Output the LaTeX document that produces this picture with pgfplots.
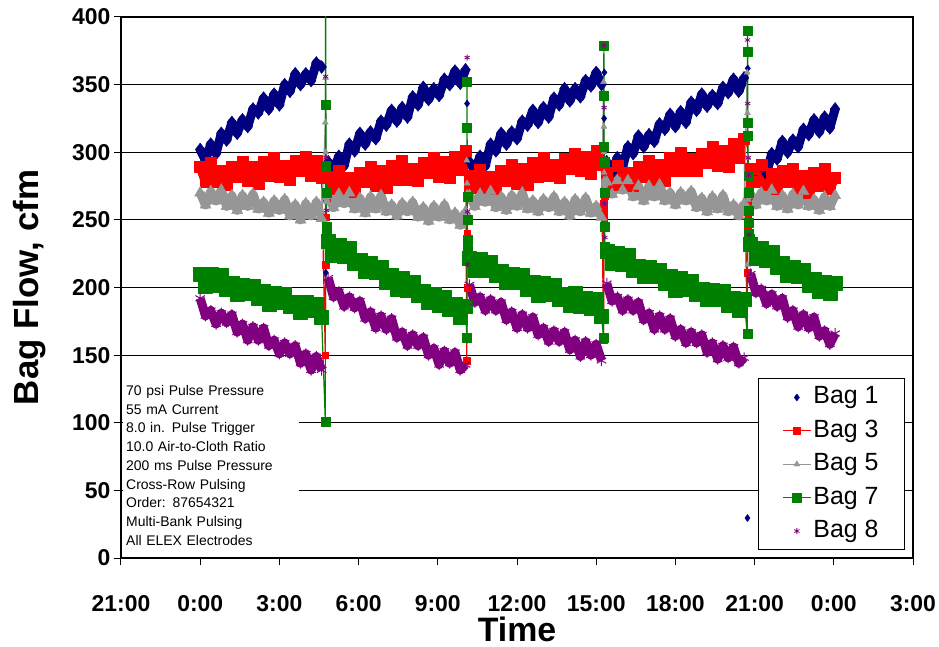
\documentclass[border=0pt]{standalone}
\usepackage{pgfplots}
\usepackage{pgfplotstable}
\usepackage{fontspec}
\setmainfont{Liberation Sans}
\pgfplotsset{compat=1.18}

\definecolor{bagA}{RGB}{0,0,128}
\definecolor{bagB}{RGB}{255,0,0}
\definecolor{bagC}{RGB}{150,150,150}
\definecolor{bagD}{RGB}{0,128,0}
\definecolor{bagE}{RGB}{128,0,128}

\pgfplotsset{
    band/.style={line width=9bp, line join=round, forget plot},
    jump/.style={line width=1.2bp, line join=round},
}

% time in hours after 0:00 of the first day; a nan row ends each pulse cycle
\pgfplotstableread{
t b1 b3 b5 b7 b8
0.0 302 289 270 210 192
0.2 294 278 261 201 179
0.4 306 292 271 210 183
0.6 299 278 264 202 173
0.8 314 286 272 209 181
1.0 309 276 260 199 174
1.2 322 289 268 203 180
1.4 314 282 257 195 167
1.6 324 293 268 202 173
1.8 319 279 260 196 161
2.0 332 289 269 201 171
2.2 329 277 258 192 161
2.4 340 293 263 197 170
2.6 332 283 255 188 157
2.8 343 296 264 196 161
3.0 335 282 257 189 151
3.2 350 290 265 195 159
3.4 345 280 253 186 151
3.6 358 294 261 189 157
3.8 350 286 250 182 144
4.0 358 297 262 189 151
4.2 353 283 253 183 139
4.4 366 294 263 188 149
4.6 363 281 251 178 139
4.7 nan nan nan nan nan
4.85 293 282 268 234 207
5.05 286 273 259 224 193
5.25 297 286 269 231 197
5.45 290 273 262 223 186
5.65 306 281 270 229 193
5.85 301 271 258 218 185
6.05 314 285 266 220 190
6.25 306 278 255 212 177
6.45 315 289 267 218 182
6.65 310 275 258 211 170
6.85 323 286 268 215 179
7.05 320 274 256 204 169
7.25 331 290 261 209 177
7.45 323 280 253 199 163
7.65 333 294 262 207 167
7.85 326 280 256 198 157
8.05 341 288 263 204 165
8.25 335 279 252 194 157
8.45 348 292 259 197 163
8.65 339 285 249 189 150
8.85 347 296 260 195 155
9.05 342 282 252 187 143
9.25 354 293 261 193 153
9.45 350 281 250 184 144
9.65 360 297 255 188 152
9.85 351 287 246 178 139
10.05 361 301 256 186 143
10.1 nan nan nan nan nan
10.2 293 283 268 222 202
10.4 286 274 260 213 189
10.6 297 287 269 221 193
10.8 290 274 263 213 183
11.0 306 282 271 219 191
11.2 301 273 259 209 183
11.4 314 286 267 212 189
11.6 306 279 257 204 176
11.8 315 291 268 210 182
12.0 310 277 260 204 170
12.2 323 288 270 209 180
12.4 320 276 258 199 170
12.6 331 292 264 204 178
12.8 322 282 256 194 165
13.0 333 296 265 203 170
13.2 326 283 259 195 160
13.4 340 291 267 202 168
13.6 335 281 256 191 160
13.8 347 295 263 195 167
14.0 338 288 253 187 154
14.2 347 299 265 196 161
14.4 341 286 256 186 149
14.6 353 297 266 192 160
14.8 349 284 255 185 150
15.0 359 301 260 191 158
15.2 350 291 252 179 146
15.3 nan nan nan nan nan
15.4 293 285 278 227 203
15.6 285 276 269 218 190
15.8 296 290 279 225 193
16.0 289 276 272 217 183
16.2 304 285 279 224 191
16.4 299 275 267 213 183
16.6 312 289 275 216 189
16.8 304 282 264 208 176
17.0 313 294 275 215 181
17.2 308 280 267 208 169
17.4 321 291 276 213 179
17.6 317 279 264 203 169
17.8 328 296 270 208 177
18.0 319 286 261 198 164
18.2 330 300 270 207 169
18.4 322 286 264 199 159
18.6 337 295 271 205 167
18.8 331 286 259 195 159
19.0 343 299 266 199 165
19.2 334 292 256 191 152
19.4 342 304 267 198 159
19.6 336 290 258 191 147
19.8 348 301 268 197 157
20.0 344 289 256 187 148
20.2 354 306 261 192 156
20.4 345 296 253 183 144
20.6 355 310 262 191 148
20.7 nan nan nan nan nan
20.85 286 288 269 232 210
21.05 279 278 261 222 196
21.25 290 291 270 229 199
21.45 284 276 264 220 188
21.65 299 284 272 226 195
21.85 295 273 260 215 186
22.05 308 286 268 218 192
22.25 300 278 258 209 178
22.45 309 288 269 215 183
22.65 304 273 261 208 171
22.85 317 283 271 213 180
23.05 313 270 260 202 170
23.25 324 285 265 206 178
23.45 315 275 257 197 164
23.65 326 288 267 204 168
23.85 318 273 260 196 158
24.05 332 281 268 203 166
}\bagbody

% readings taken while a row was being pulsed
\pgfplotstableread{
t b1 b3 b5 b7 b8
4.6 nan 281 251 178 nan
4.74 nan 150 322 101 nan
4.75 nan 252 355 420 356
4.76 211 217 300 335 nan
4.77 nan 270 266 290 296
4.78 nan 268 264 270 nan
4.79 nan 266 263 245 257
4.80 nan 270 265 238 nan
4.85 nan 282 268 234 nan
4.9 nan nan nan nan nan
10.05 nan 301 256 186 nan
10.10 nan 146 294 163 nan
10.11 nan 200 277 352 370
10.11 336 240 270 318 nan
10.12 nan 276 265 267 256
10.12 nan 270 268 250 nan
10.13 nan 275 266 235 217
10.14 nan 278 268 228 nan
10.2 nan 283 268 222 nan
10.3 nan nan nan nan nan
15.2 nan 291 252 179 nan
15.28 nan 161 352 163 nan
15.29 nan 262 319 379 379
15.30 325 250 300 342 nan
15.30 nan 255 285 304 333
15.31 nan 258 280 293 nan
15.31 359 262 278 270 262
15.32 nan 268 276 245 nan
15.33 nan 270 274 230 237
15.34 nan 272 276 228 nan
15.4 nan 285 278 227 nan
15.5 nan nan nan nan nan
20.6 nan 310 262 191 nan
20.72 nan 165 359 166 nan
20.73 29.6 211 329 390 383
20.74 nan 257 296 374 nan
20.74 362 245 217 322 336
20.75 nan 250 260 312 nan
20.76 nan 255 265 283 296
20.76 nan 262 268 270 nan
20.77 nan 268 270 257 283
20.78 nan 272 268 248 nan
20.79 nan 275 268 240 239
20.80 nan 278 267 236 nan
20.85 nan 288 269 232 nan
}\bagjump

\begin{document}
\begin{tikzpicture}
\useasboundingbox (-121bp,-89bp) rectangle (818bp,558bp);
\begin{axis}[
    width=792bp, height=541bp, scale only axis,
    xmin=-3, xmax=27, ymin=0, ymax=400,
    xtick={-3,0,...,27},
    xticklabels={21:00,0:00,3:00,6:00,9:00,12:00,15:00,18:00,21:00,0:00,3:00},
    ytick={0,50,...,400},
    tick align=outside, xtick pos=bottom, ytick pos=left,
    major tick length=7bp,
    tick style={black, line width=1bp},
    axis line style={black, line width=1.2bp},
    ymajorgrids, grid style={black, line width=0.9bp},
    /pgf/number format/assume math mode=true,
    ticklabel style={font=\bfseries\fontsize{23}{27}\selectfont},
    xticklabel style={yshift=-29bp, inner sep=1bp},
    xlabel={Time}, ylabel={Bag Flow, cfm},
    xlabel style={font=\bfseries\fontsize{34}{40}\selectfont, at={(axis description cs:0.5,-0.155)}, anchor=base, inner sep=0pt},
    ylabel style={font=\bfseries\fontsize{35}{42}\selectfont, at={(axis description cs:-0.115,0.5)}, anchor=center},
    unbounded coords=jump,
    legend image code/.code={\draw[mark repeat=2,mark phase=2,#1] plot coordinates {(0bp,0bp) (14bp,0bp) (28bp,0bp)};},
    legend cell align=left,
    legend style={at={(1,0)}, anchor=south east, xshift=-8bp, yshift=8bp,
        draw=black, line width=0.9bp, fill=white,
        font=\fontsize{25}{30}\selectfont,
        inner xsep=24bp, inner ysep=5bp, row sep=6.4bp,
        nodes={inner sep=2bp, text height=18bp, text depth=5bp}},
]
% Bag 1
\addplot[color=bagA, band, mark=diamond*, mark size=6.5bp, mark options={line width=0.4bp}]
    table[x=t, y=b1] {\bagbody};
\addplot[color=bagA, only marks, mark=diamond*, mark size=3.5bp, mark options={line width=0.4bp}]
    table[x=t, y=b1] {\bagjump};
\addlegendentry{Bag 1}
% Bag 3
\addplot[color=bagB, band, mark=square*, mark size=5.5bp, mark options={line width=0.4bp}]
    table[x=t, y=b3] {\bagbody};
\addplot[color=bagB, jump, mark=square*, mark size=3.3bp, mark options={line width=0.4bp}]
    table[x=t, y=b3] {\bagjump};
\addlegendentry{Bag 3}
% Bag 5
\addplot[color=bagC, band, mark=triangle*, mark size=6.5bp, mark options={line width=0.4bp}]
    table[x=t, y=b5] {\bagbody};
\addplot[color=bagC, jump, mark=triangle*, mark size=3.5bp, mark options={line width=0.4bp}]
    table[x=t, y=b5] {\bagjump};
\addlegendentry{Bag 5}
% Bag 7
\addplot[color=bagD, band, mark=square*, mark size=7bp, mark options={line width=0.4bp}]
    table[x=t, y=b7] {\bagbody};
\addplot[color=bagD, jump, mark=square*, mark size=4.5bp, mark options={line width=0.4bp}]
    table[x=t, y=b7] {\bagjump};
\addlegendentry{Bag 7}
% Bag 8
\addplot[color=bagE, band, mark=asterisk, mark size=5.5bp, mark options={line width=1bp}]
    table[x=t, y=b8] {\bagbody};
\addplot[color=bagE, only marks, mark=asterisk, mark size=3bp, mark options={line width=0.8bp}]
    table[x=t, y=b8] {\bagjump};
\addlegendentry{Bag 8}
\node[fill=white, anchor=north west, xshift=2bp, inner sep=3bp, text width=170bp,
    align=left, font=\fontsize{14}{18.8}\selectfont] at (axis cs:-3,130)
    {70 psi Pulse Pressure\\55 mA Current\\8.0 in. Pulse Trigger\\10.0 Air-to-Cloth Ratio\\200 ms Pulse Pressure\\Cross-Row Pulsing\\Order: 87654321\\Multi-Bank Pulsing\\All ELEX Electrodes};
\end{axis}
\end{tikzpicture}
\end{document}
